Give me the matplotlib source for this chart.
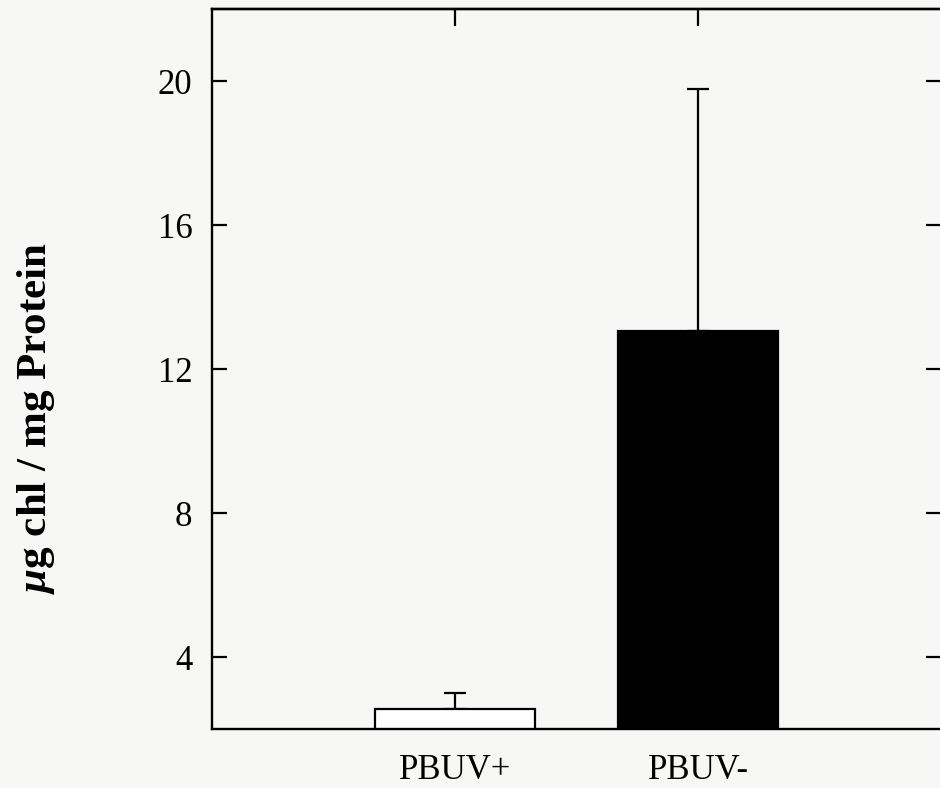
import numpy as np
import matplotlib
matplotlib.use("Agg")
import matplotlib.pyplot as plt

# ---- data ----
groups = ["PBUV+", "PBUV-"]
values = [2.56, 13.05]   # ug chl / mg protein
errors = [0.44, 6.73]    # upper error only
colors = ["white", "black"]
yticks = [4, 8, 12, 16, 20]

plt.rcParams["font.family"] = ["Liberation Serif", "DejaVu Serif"]
plt.rcParams["mathtext.fontset"] = "custom"
plt.rcParams["mathtext.it"] = "Liberation Serif:italic:bold"
plt.rcParams["mathtext.rm"] = "Liberation Serif:bold"

fig = plt.figure(figsize=(9.4, 7.88), dpi=100)
fig.patch.set_facecolor("#f7f7f6")
ax = fig.add_axes([212 / 940, 59 / 788, 729 / 940, 720 / 788])
ax.set_facecolor("#f7f7f6")

x = np.arange(len(groups))
ax.bar(x, values, width=0.66, color=colors, edgecolor="black", linewidth=1.6, zorder=2)
ax.errorbar(x, values, yerr=[np.zeros(len(errors)), errors], fmt="none",
            ecolor="black", elinewidth=1.6, capsize=8, capthick=1.6, zorder=1)

ax.set_xlim(-1, 2)
ax.set_ylim(2, 22)
ax.set_yticks(yticks)
ax.set_xticks(x)
ax.set_xticklabels(groups)

for s in ax.spines.values():
    s.set_linewidth(1.7)
ax.spines["right"].set_visible(False)

ax.tick_params(axis="y", direction="in", length=11, width=1.6, labelsize=25,
               pad=14, right=True)
ax.tick_params(axis="x", direction="in", length=0, labelsize=25, pad=18)
# ticks on the top spine at the bar positions
sec = ax.secondary_xaxis("top")
sec.set_xticks(x)
sec.tick_params(direction="in", length=12, width=1.6, labeltop=False)
sec.spines["top"].set_linewidth(1.7)

fig.text(36 / 940, 1 - 418 / 788, r"$\mu$g chl / mg Protein", rotation=90,
         ha="center", va="center", fontsize=31, fontweight="bold")

fig.savefig("out.png", dpi=100, facecolor=fig.get_facecolor())
